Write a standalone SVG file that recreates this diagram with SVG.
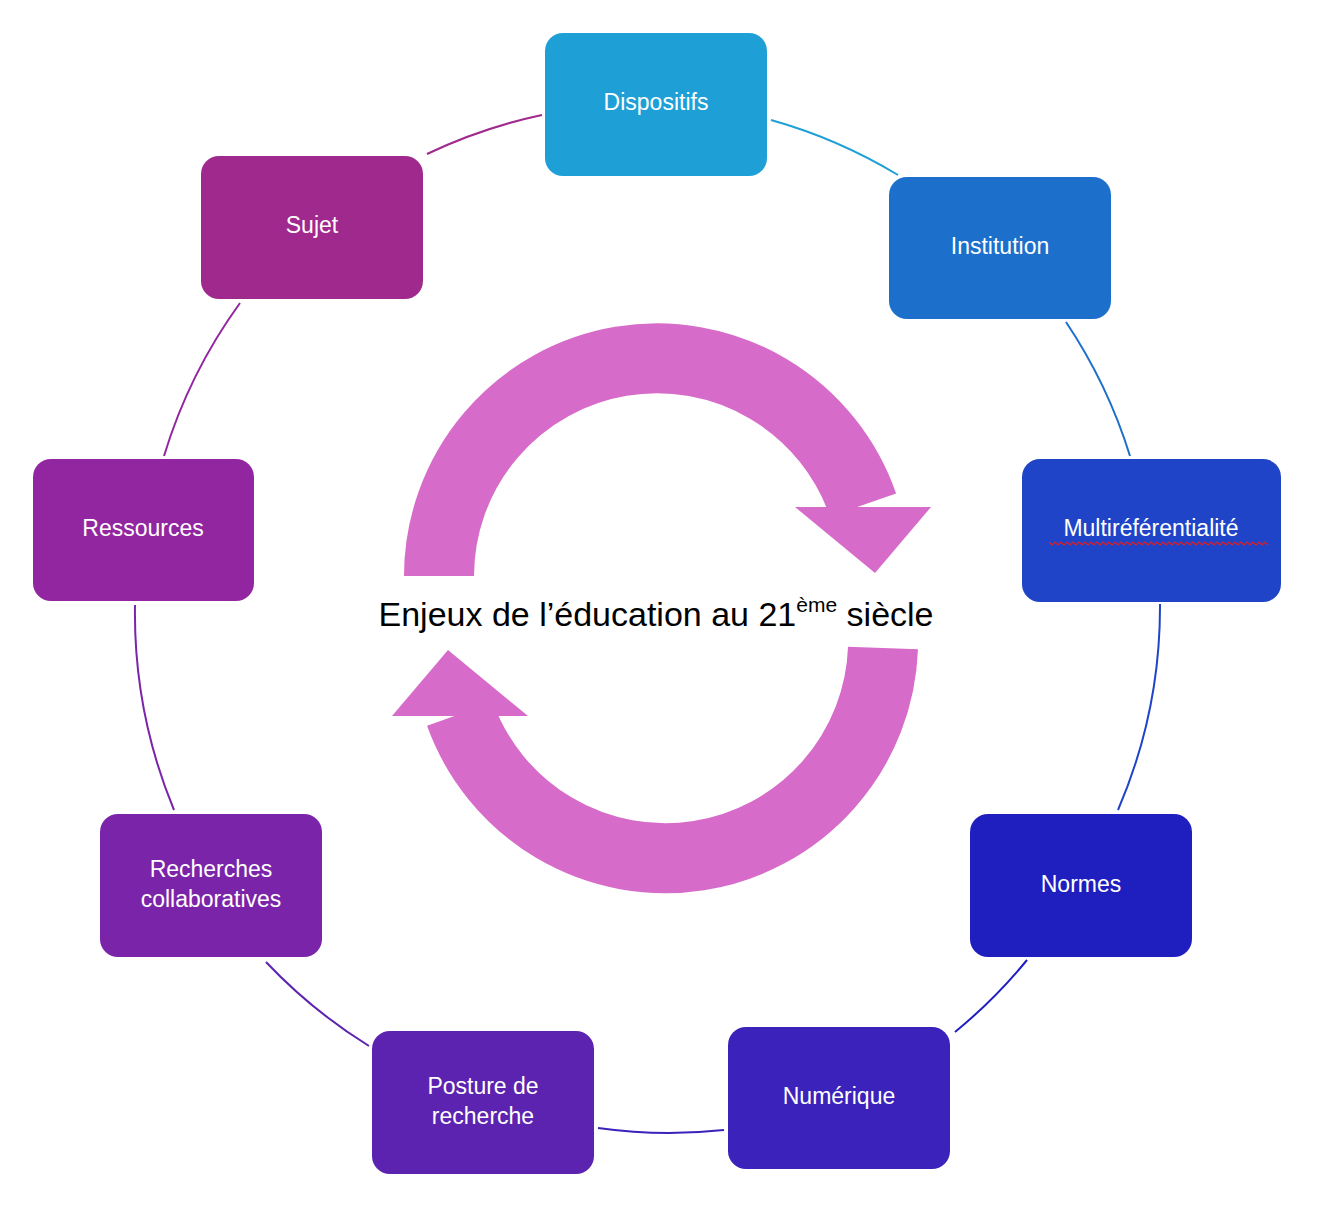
<svg xmlns="http://www.w3.org/2000/svg" width="1324" height="1210" viewBox="0 0 1324 1210">
<style>
.n text{font-family:"Liberation Sans",Arial,sans-serif;font-size:23px;fill:#fff;text-anchor:middle}
.c path{fill:none;stroke-width:2}
.ring{fill:none;stroke:#D76BC9;stroke-width:70}
</style>
<rect width="1324" height="1210" fill="#fff"/>
<g id="connectors" class="c">
<path d="M771,120 A515,515 0 0 1 898,175" stroke="#1E9FD6"/>
<path d="M1066,322 A515,515 0 0 1 1130,456" stroke="#1C70CC"/>
<path d="M1160,604 A515,515 0 0 1 1118,810" stroke="#1F44C8"/>
<path d="M1027,960 A515,515 0 0 1 955,1032" stroke="#1F1FC0"/>
<path d="M724,1130 A515,515 0 0 1 598,1128" stroke="#3A22BA"/>
<path d="M369,1046 A515,515 0 0 1 266,962" stroke="#5C22B0"/>
<path d="M174,810 A515,515 0 0 1 135,605" stroke="#7A24AA"/>
<path d="M164,456 A515,515 0 0 1 240,303" stroke="#9226A0"/>
<path d="M427,154 A515,515 0 0 1 542,115" stroke="#A0298E"/>
</g>
<g id="cycle">
<path class="ring" d="M439,576 A218,218 0 0 1 863,505"/>
<polygon points="795,507 931,507 875,573" fill="#D76BC9"/>
<path class="ring" d="M883,648 A218,218 0 0 1 460,714"/>
<polygon points="392,716 528,716 448,650" fill="#D76BC9"/>
</g>
<text x="656" y="626" font-family="Liberation Sans,Arial,sans-serif" font-size="34" text-anchor="middle" fill="#000">Enjeux de l’éducation au 21<tspan font-size="21" dy="-14">ème</tspan><tspan dy="14"> siècle</tspan></text>
<g id="dispositifs" class="n"><rect x="545" y="33" width="222" height="143" rx="18" fill="#1E9FD6"/><text x="656" y="110">Dispositifs</text></g>
<g id="institution" class="n"><rect x="889" y="177" width="222" height="142" rx="18" fill="#1C70CC"/><text x="1000" y="254">Institution</text></g>
<g id="multi" class="n"><rect x="1022" y="459" width="259" height="143" rx="18" fill="#1F44C8"/><text x="1151" y="536">Multiréférentialité</text><path d="M1049,542 l3,3 l3,-3 l3,3 l3,-3 l3,3 l3,-3 l3,3 l3,-3 l3,3 l3,-3 l3,3 l3,-3 l3,3 l3,-3 l3,3 l3,-3 l3,3 l3,-3 l3,3 l3,-3 l3,3 l3,-3 l3,3 l3,-3 l3,3 l3,-3 l3,3 l3,-3 l3,3 l3,-3 l3,3 l3,-3 l3,3 l3,-3 l3,3 l3,-3 l3,3 l3,-3 l3,3 l3,-3 l3,3 l3,-3 l3,3 l3,-3 l3,3 l3,-3 l3,3 l3,-3 l3,3 l3,-3 l3,3 l3,-3 l3,3 l3,-3 l3,3 l3,-3 l3,3 l3,-3 l3,3 l3,-3 l3,3 l3,-3 l3,3 l3,-3 l3,3 l3,-3 l3,3 l3,-3 l3,3 l3,-3 l3,3 l3,-3 l3,3" fill="none" stroke="#E02020" stroke-width="1.2"/></g>
<g id="normes" class="n"><rect x="970" y="814" width="222" height="143" rx="18" fill="#1F1FC0"/><text x="1081" y="892">Normes</text></g>
<g id="numerique" class="n"><rect x="728" y="1027" width="222" height="142" rx="18" fill="#3A22BA"/><text x="839" y="1104">Numérique</text></g>
<g id="posture" class="n"><rect x="372" y="1031" width="222" height="143" rx="18" fill="#5C22B0"/><text x="483" y="1094">Posture de</text><text x="483" y="1124">recherche</text></g>
<g id="recherches" class="n"><rect x="100" y="814" width="222" height="143" rx="18" fill="#7A24AA"/><text x="211" y="877">Recherches</text><text x="211" y="907">collaboratives</text></g>
<g id="ressources" class="n"><rect x="33" y="459" width="221" height="142" rx="18" fill="#9226A0"/><text x="143" y="536">Ressources</text></g>
<g id="sujet" class="n"><rect x="201" y="156" width="222" height="143" rx="18" fill="#A0298E"/><text x="312" y="233">Sujet</text></g>
</svg>
